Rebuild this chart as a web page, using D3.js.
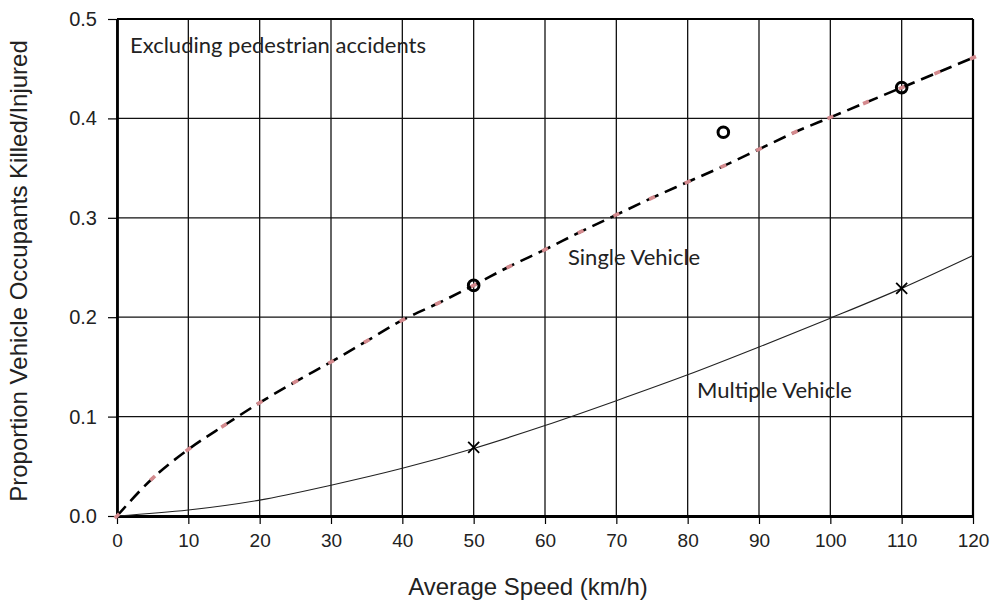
<!DOCTYPE html>
<html><head><meta charset="utf-8">
<script src="https://cdn.jsdelivr.net/npm/d3@7"></script>
<style>body{margin:0;background:#fff}svg{display:block}</style>
</head><body>
<script>
const singleSpeeds = [0,5,10,15,20,25,30,35,40,45,50,55,60,65,70,75,80,85,90,95,100,105,110,115,120];
const singleValues = [0,0.038,0.067,0.091,0.114,0.135,0.155,0.176,0.197,0.214,0.232,0.251,0.268,0.286,0.303,0.320,0.336,0.352,0.369,0.386,0.401,0.416,0.431,0.446,0.461];
const multiSpeeds = [0,10,20,30,40,50,60,70,80,90,100,110,120];
const multiValues = [0,0.006,0.016,0.031,0.048,0.068,0.091,0.116,0.142,0.170,0.199,0.229,0.262];
const circleSpeeds = [50,85,110];
const circleValues = [0.232,0.386,0.431];
const crossSpeeds = [50,110];
const crossValues = [0.069,0.229];
const xTicks = [0,10,20,30,40,50,60,70,80,90,100,110,120];
const yTicks = [0,0.1,0.2,0.3,0.4,0.5];

const W=995,H=603;
const svg=d3.select("body").append("svg").attr("width",W).attr("height",H);
const x=d3.scaleLinear().domain([0,120]).range([117,973]);
const y=d3.scaleLinear().domain([0,0.5]).range([516,19]);
const arial="'Liberation Sans', Arial, sans-serif";
const tf="Lato, 'Open Sans', sans-serif";

// grid
svg.append("g").selectAll("line").data(xTicks).join("line")
 .attr("x1",d=>x(d)).attr("x2",d=>x(d)).attr("y1",y(0)).attr("y2",y(0.5))
 .attr("stroke","#111").attr("stroke-width",1.3);
svg.append("g").selectAll("line").data(yTicks).join("line")
 .attr("x1",x(0)).attr("x2",x(120)).attr("y1",d=>y(d)).attr("y2",d=>y(d))
 .attr("stroke","#111").attr("stroke-width",1.3);

// frame
svg.append("line").attr("x1",x(0)).attr("x2",x(120)).attr("y1",y(0.5)).attr("y2",y(0.5)).attr("stroke","#000").attr("stroke-width",2);
svg.append("line").attr("x1",x(120)).attr("x2",x(120)).attr("y1",y(0.5)).attr("y2",y(0)).attr("stroke","#000").attr("stroke-width",2.2);

// axes
const xAxis=svg.append("g").attr("transform",`translate(0,${y(0)})`)
 .call(d3.axisBottom(x).tickValues(xTicks).tickSize(8).tickSizeOuter(0).tickPadding(10).tickFormat(d3.format("d")));
const yAxis=svg.append("g").attr("transform",`translate(${x(0)},0)`)
 .call(d3.axisLeft(y).tickValues(yTicks).tickSize(9).tickSizeOuter(0).tickPadding(11).tickFormat(d3.format(".1f")));
[xAxis,yAxis].forEach(a=>{
 a.select(".domain").attr("stroke","#000").attr("stroke-width",2.8);
 a.selectAll(".tick line").attr("stroke","#000").attr("stroke-width",1.2);
 a.selectAll("text").attr("font-family",arial).attr("fill","#222");
});
xAxis.selectAll("text").attr("font-size",19);
yAxis.selectAll("text").attr("font-size",20);

// multiple vehicle line
const multi=multiSpeeds.map((s,i)=>[s,multiValues[i]]);
svg.append("path").datum(multi).attr("fill","none").attr("stroke","#222").attr("stroke-width",1.1)
 .attr("d",d3.line().x(d=>x(d[0])).y(d=>y(d[1])).curve(d3.curveMonotoneX));

// single vehicle dashed
const single=singleSpeeds.map((s,i)=>[s,singleValues[i]]);
svg.append("path").datum(single).attr("fill","none").attr("stroke","#000").attr("stroke-width",2.6)
 .attr("stroke-dasharray","13,7")
 .attr("d",d3.line().x(d=>x(d[0])).y(d=>y(d[1])).curve(d3.curveMonotoneX));
// pink markers, small dashes oriented along the line
svg.append("g").selectAll("line").data(single).join("line")
 .each(function(d,i){
   const a=single[Math.max(0,i-1)], b=single[Math.min(single.length-1,i+1)];
   const dx=x(b[0])-x(a[0]), dy=y(b[1])-y(a[1]); const L=Math.hypot(dx,dy), h=3.2;
   d3.select(this).attr("x1",x(d[0])-dx/L*h).attr("y1",y(d[1])-dy/L*h)
    .attr("x2",x(d[0])+dx/L*h).attr("y2",y(d[1])+dy/L*h);
 })
 .attr("stroke","#d48a8e").attr("stroke-width",3.6);

// circles
svg.append("g").selectAll("circle").data(circleSpeeds.map((s,i)=>[s,circleValues[i]])).join("circle")
 .attr("cx",d=>x(d[0])).attr("cy",d=>y(d[1])).attr("r",5.3).attr("fill","none").attr("stroke","#000").attr("stroke-width",3);

// crosses
const cr=svg.append("g");
crossSpeeds.forEach((s,i)=>{
 const cx=x(s),cy=y(crossValues[i]),k=5.5;
 cr.append("path").attr("d",`M${cx-k},${cy-k}L${cx+k},${cy+k}M${cx-k},${cy+k}L${cx+k},${cy-k}`)
  .attr("stroke","#000").attr("stroke-width",1.8);
});

// annotations
svg.append("text").attr("x",130).attr("y",53).text("Excluding pedestrian accidents").attr("font-family",tf).attr("font-size",22).attr("fill","#222");
svg.append("text").attr("x",568).attr("y",265).text("Single Vehicle").attr("font-family",tf).attr("font-size",22).attr("fill","#222");
svg.append("text").attr("x",697).attr("y",398).text("Multiple Vehicle").attr("font-family",tf).attr("font-size",22).attr("fill","#222");

// axis titles
svg.append("text").attr("x",528).attr("y",595).attr("text-anchor","middle").text("Average Speed (km/h)")
 .attr("font-family",arial).attr("font-size",24).attr("fill","#222");
svg.append("text").attr("transform","translate(27,271) rotate(-90)").attr("text-anchor","middle").text("Proportion Vehicle Occupants Killed/Injured")
 .attr("font-family",arial).attr("font-size",24).attr("fill","#222");
</script>
</body></html>
